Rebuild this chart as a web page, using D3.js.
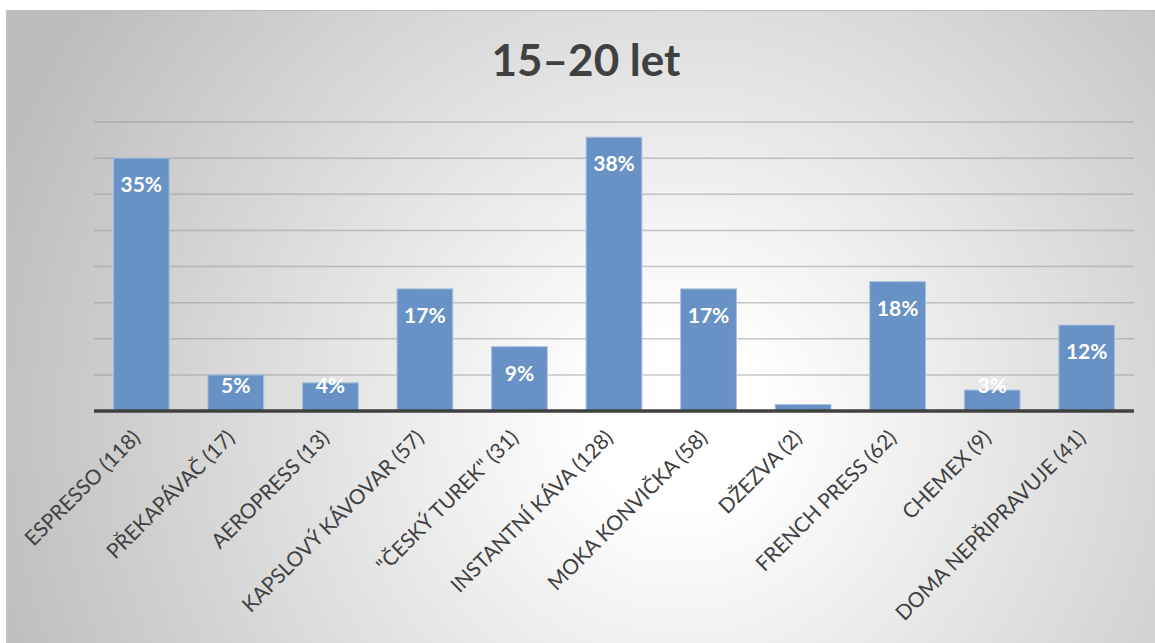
<!DOCTYPE html>
<html><head><meta charset="utf-8">
<script src="https://cdn.jsdelivr.net/npm/d3@7"></script>
<style>body{margin:0;background:#fff;overflow:hidden}svg{display:block}</style>
</head><body>
<script>
const title = "15–20 let";
const categories = ["ESPRESSO (118)","PŘEKAPÁVAČ (17)","AEROPRESS (13)","KAPSLOVÝ KÁVOVAR (57)","\"ČESKÝ TUREK\" (31)","INSTANTNÍ KÁVA (128)","MOKA KONVIČKA (58)","DŽEZVA (2)","FRENCH PRESS (62)","CHEMEX (9)","DOMA NEPŘIPRAVUJE (41)"];
const values = [35.0, 5.0, 3.9, 16.9, 8.9, 37.9, 16.9, 0.9, 17.9, 2.9, 11.9];
const valueLabels = ["35%","5%","4%","17%","9%","38%","17%","","18%","3%","12%"];
const gridTicks = [5,10,15,20,25,30,35,40];

const W = 1155, H = 643;
const svg = d3.select("body").append("svg").attr("width", W).attr("height", H);
const defs = svg.append("defs");
const rg = defs.append("radialGradient").attr("id","bg").attr("gradientUnits","userSpaceOnUse")
  .attr("cx", 680).attr("cy", 420).attr("r", 720);
rg.append("stop").attr("offset","0%").attr("stop-color","#ffffff");
rg.append("stop").attr("offset","12%").attr("stop-color","#ffffff");
rg.append("stop").attr("offset","100%").attr("stop-color","#bdbdbd");

svg.append("rect").attr("x",6).attr("y",10).attr("width",W-6).attr("height",H-10).attr("fill","url(#bg)");
svg.append("line").attr("x1",6).attr("x2",W).attr("y1",10.5).attr("y2",10.5).attr("stroke","#bcbcbc").attr("stroke-width",1);
svg.append("line").attr("x1",6.5).attr("x2",6.5).attr("y1",10).attr("y2",H).attr("stroke","#c4c4c4").attr("stroke-width",1);

const x = d3.scaleBand().domain(categories).range([94, 1134]).paddingInner(0.41).paddingOuter(0.205);
const y = d3.scaleLinear().domain([0, 40]).range([411, 122]);

svg.append("text").attr("x", 586).attr("y", 76).attr("text-anchor","middle")
  .attr("font-family","Lato, sans-serif").attr("font-weight",700).attr("font-size",44)
  .attr("fill","#404040").text(title);

svg.append("g").selectAll("line").data(gridTicks).join("line")
  .attr("x1",94).attr("x2",1134).attr("y1",d=>y(d)).attr("y2",d=>y(d))
  .attr("stroke","#9a9a9a").attr("stroke-opacity",0.55).attr("stroke-width",1.5);

svg.append("g").selectAll("rect").data(values).join("rect")
  .attr("x",(d,i)=>x(categories[i])).attr("width",x.bandwidth())
  .attr("y",d=>y(d)).attr("height",d=>y(0)-y(d))
  .attr("fill","#6892c5").attr("stroke","#a9c1df").attr("stroke-width",1);

svg.append("line").attr("x1",94).attr("x2",1134).attr("y1",y(0)).attr("y2",y(0)).attr("stroke","#404040").attr("stroke-width",3.5);

svg.append("g").selectAll("text").data(values).join("text")
  .attr("x",(d,i)=>x(categories[i])+x.bandwidth()/2)
  .attr("y",d=>Math.min(y(d)+34, 392.5))
  .attr("text-anchor","middle").attr("font-family","Lato, sans-serif").attr("font-weight",700)
  .attr("font-size",21).attr("fill","#ffffff").text((d,i)=>valueLabels[i]);

svg.append("g").selectAll("text").data(categories).join("text")
  .attr("transform",d=>`translate(${x(d)+x.bandwidth()/2-5},${434}) rotate(-45)`)
  .attr("text-anchor","end").attr("dy","0.35em")
  .attr("font-family","Lato, sans-serif").attr("font-size",20.8).attr("fill","#404040").text(d=>d);
</script>
</body></html>
